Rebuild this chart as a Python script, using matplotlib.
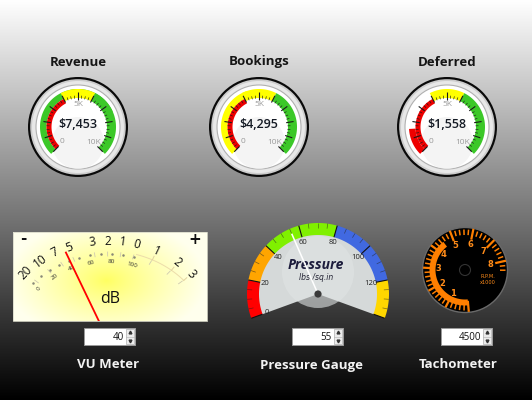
import numpy as np
import matplotlib
matplotlib.use('Agg')
import matplotlib.pyplot as plt
from matplotlib.patches import Polygon, Circle, Rectangle

# ---------------- data ----------------
gauge_titles = ['Revenue', 'Bookings', 'Deferred']
gauge_values = [7453, 4295, 1558]
gauge_max = 10000
gauge_ticks = [0, 5000, 10000]
gauge_tick_labels = ['0', '5K', '10K']
gauge_range_bounds = [0, 4000, 6000, 10000]
gauge_range_colors = ['#ee0000', '#ffff00', '#3cc828']

vu_value = 40
vu_pct_ticks = [0, 20, 40, 60, 80, 100]
vu_db_labels = ['20', '10', '7', '5', '3', '2', '1', '0', '1', '2', '3']
vu_db_pos = [2, 18, 32, 44, 64, 76, 88, 100, 117, 137, 152]

pressure_value = 55
pressure_max = 140
pressure_ticks = [0, 20, 40, 60, 80, 100, 120]
pressure_range_bounds = [0, 20, 40, 80, 120, 140]
pressure_range_colors = ['#ff0000', '#ffa500', '#80f000', '#4169e1', '#ffd700']

tach_value = 4500
tach_labels = ['1', '2', '3', '4', '5', '6', '7', '8']
tach_max = 8500

bottom_titles = ['VU Meter', 'Pressure Gauge', 'Tachometer']

# ---------------- figure ----------------
W, H = 532, 400
fig = plt.figure(figsize=(W / 100, H / 100), dpi=100)
ax = fig.add_axes([0, 0, 1, 1])
ax.set_xlim(0, W)
ax.set_ylim(H, 0)
ax.axis('off')

# background gradient
yy = np.linspace(0, 1, 400)[:, None]
g = np.clip(1.0 - yy, 0, 1) * np.ones((1, 4))
bg = np.dstack([g, g, g])
ax.imshow(bg, extent=[0, W, H, 0], aspect='auto', zorder=0, interpolation='bilinear')


def pt(cx, cy, r, a):
    a = np.radians(a)
    return cx + r * np.cos(a), cy - r * np.sin(a)


def band(cx, cy, r0, r1, a0, a1, color, z, **kw):
    n = max(int(abs(a1 - a0)) + 2, 4)
    aa = np.linspace(a0, a1, n)
    outer = [pt(cx, cy, r1, a) for a in aa]
    inner = [pt(cx, cy, r0, a) for a in aa[::-1]]
    p = Polygon(outer + inner, closed=True, facecolor=color, edgecolor='none', zorder=z, **kw)
    ax.add_patch(p)
    return p


def radial_line(cx, cy, r0, r1, a, **kw):
    x0, y0 = pt(cx, cy, r0, a)
    x1, y1 = pt(cx, cy, r1, a)
    ax.plot([x0, x1], [y0, y1], solid_capstyle='butt', **kw)


# ---------------- top radial gauges ----------------
top_cx = [78, 259, 447]
top_cy = 127


def ang_top(v):
    return 225 - 270 * v / gauge_max


for i, (title, val) in enumerate(zip(gauge_titles, gauge_values)):
    cx, cy = top_cx[i], top_cy
    ax.text(cx, 62, title, ha='center', va='center', fontsize=9.5, fontweight='bold',
            family=['Open Sans', 'DejaVu Sans'], color='#151515', zorder=5)
    ax.add_patch(Circle((cx, cy), 50, facecolor='#0a0a0a', edgecolor='none', zorder=2))
    ax.add_patch(Circle((cx, cy), 47.8, facecolor='#cdcdcd', edgecolor='none', zorder=2))
    ax.add_patch(Circle((cx, cy), 46, facecolor='#e8e8e8', edgecolor='none', zorder=2))
    ax.add_patch(Circle((cx, cy), 42, facecolor='#ffffff', edgecolor='#b0b0b0', lw=0.8, zorder=2))
    ax.add_patch(Circle((cx, cy + 16), 26, facecolor='#f0f0f0', edgecolor='none', zorder=2, alpha=0.7))
    # value bar coloured by its range
    ci = np.searchsorted(gauge_range_bounds, val, side='right') - 1
    ci = min(max(ci, 0), len(gauge_range_colors) - 1)
    band(cx, cy, 31.5, 38, ang_top(0), ang_top(val), gauge_range_colors[ci], 3)
    # ranges
    for k in range(len(gauge_range_colors)):
        a0 = ang_top(gauge_range_bounds[k])
        a1 = ang_top(gauge_range_bounds[k + 1])
        if k == 0:
            band(cx, cy, 26.5, 31.5, a0, a1, gauge_range_colors[k], 3.5)
        else:
            band(cx, cy, 29, 38, a0, a1, gauge_range_colors[k], 3.5)
    # ticks
    for v in np.arange(0, gauge_max + 1, 250):
        a = ang_top(v)
        if v % 1000 == 0:
            radial_line(cx, cy, 27.5, 35, a, color='#1a1a1a', lw=0.8, zorder=4)
        else:
            radial_line(cx, cy, 28.5, 31.5, a, color='#1a1a1a', lw=0.45, zorder=4)
    # tick labels
    lab_pos = {0: (22, 222), 5000: (22, 90), 10000: (21.5, -45)}
    for v, lab in zip(gauge_ticks, gauge_tick_labels):
        r, a = lab_pos[v]
        x, y = pt(cx, cy, r, a)
        ax.text(x, y, lab, ha='center', va='center', fontsize=6, color='#9a9a9a',
                family=['Open Sans', 'DejaVu Sans'], zorder=5)
    ax.text(cx, 124, '${:,}'.format(val), ha='center', va='center', fontsize=9, fontweight='semibold',
            color='#141a24', family=['Open Sans', 'DejaVu Sans'], zorder=5)

# ---------------- VU meter ----------------
vx0, vy0, vx1, vy1 = 13, 232, 207, 321
vcx, vcy = 108, 340
ny, nx = 90, 195
gy, gx = np.mgrid[0:ny, 0:nx]
px = vx0 + gx * (vx1 - vx0) / nx
py = vy0 + gy * (vy1 - vy0) / ny
d = np.sqrt(((px - 106) / 100) ** 2 + ((py - 280) / 60) ** 2)
t = np.clip(d, 0, 1) ** 0.85
blue = 0.38 + (0.93 - 0.38) * t
img = np.dstack([np.ones_like(t), np.ones_like(t), blue])
ax.imshow(img, extent=[vx0, vx1, vy1, vy0], aspect='auto', zorder=2, interpolation='bilinear')
panel = Rectangle((vx0, vy0), vx1 - vx0, vy1 - vy0, facecolor='none', edgecolor='#d8d8c8', lw=0.6, zorder=3)
ax.add_patch(panel)


def vu_theta(p):
    return -48.4 + 0.634 * p


def vu_pt(p, a, b):
    th = np.radians(vu_theta(p))
    return vcx + a * np.sin(th), vcy - b * np.cos(th)


for p, lab in zip(vu_db_pos, vu_db_labels):
    x, y = vu_pt(p, 112, 99)
    ax.text(x, y, lab, ha='center', va='center', rotation=-vu_theta(p), fontsize=8.5,
            family=['Open Sans', 'DejaVu Sans'], color='#111111', zorder=4)
    x0, y0 = vu_pt(p, 100, 88)
    x1, y1 = vu_pt(p, 95, 84)
    ax.plot([x0, x1], [y0, y1], color='#cfcab0', lw=0.6, zorder=3)

for p in vu_pct_ticks:
    x, y = vu_pt(p, 92, 78)
    ax.text(x, y, str(p), ha='center', va='center', rotation=-vu_theta(p), fontsize=4.5,
            family=['Open Sans', 'DejaVu Sans'], color='#333333', zorder=4)
for p in np.arange(0, 101, 10):
    x, y = vu_pt(p, 100, 86)
    ax.plot(x, y, marker='o', ms=0.8, color='#888877', zorder=3)

# overload zone outline
pp = np.linspace(102, 152, 40)
xs, ys = zip(*[vu_pt(p, 102, 89) for p in pp])
ax.plot(xs, ys, color='#ecdcaa', lw=0.7, zorder=3)
for p in [117, 137, 152]:
    x0, y0 = vu_pt(p, 102, 89)
    x1, y1 = vu_pt(p, 106, 93)
    ax.plot([x0, x1], [y0, y1], color='#e2d2a0', lw=0.7, zorder=3)

ax.text(23, 239, '-', ha='center', va='center', fontsize=11, fontweight='bold', color='#111', zorder=4)
ax.text(195, 240, '+', ha='center', va='center', fontsize=11, fontweight='bold', color='#111', zorder=4)
ax.text(110, 299, 'dB', ha='center', va='center', fontsize=11.5, color='#111',
        family=['Open Sans', 'DejaVu Sans'], zorder=4)

ex, ey = vu_pt(vu_value, 112 * 0.96, 99 * 0.96)
needle, = ax.plot([vcx, ex], [vcy, ey], color='#ff0000', lw=1.3, zorder=5)
needle.set_clip_path(Rectangle((vx0, vy0), vx1 - vx0, vy1 - vy0, transform=ax.transData))

# ---------------- Pressure gauge ----------------
pcx, pcy = 318, 294


def ang_p(v):
    return 200 - 220 * v / pressure_max


aa = np.linspace(ang_p(0), ang_p(pressure_max), 200)
face = [(pcx, pcy)] + [pt(pcx, pcy, 61, a) for a in aa]
ax.add_patch(Polygon(face, closed=True, facecolor='#d5d9d9', edgecolor='none', zorder=2))
ax.add_patch(Circle((pcx, pcy - 22), 36, facecolor='#e0e4e4', edgecolor='none', zorder=2, alpha=0.6))
for k, col in enumerate(pressure_range_colors):
    band(pcx, pcy, 59, 71, ang_p(pressure_range_bounds[k]), ang_p(pressure_range_bounds[k + 1]), col, 3)
for v in np.arange(0, pressure_max + 0.1, 5):
    a = ang_p(v)
    if v % 20 == 0:
        radial_line(pcx, pcy, 59, 71, a, color='#111111', lw=0.8, zorder=4)
    else:
        radial_line(pcx, pcy, 66, 71, a, color='#222222', lw=0.5, alpha=0.6, zorder=4)
for v in pressure_ticks:
    x, y = pt(pcx, pcy, 54, ang_p(v))
    ax.text(x, y, str(v), ha='center', va='center', fontsize=5.5, color='#222222',
            family=['Open Sans', 'DejaVu Sans'], zorder=5)
ax.text(316, 265, 'Pressure', ha='center', va='center', fontsize=10, fontweight='bold', style='italic',
        color='#1c1c3c', family=['Open Sans', 'DejaVu Sans'], zorder=5)
ax.text(316, 277, 'lbs /sq.in', ha='center', va='center', fontsize=5.5, style='italic',
        color='#222233', family=['DejaVu Sans'], zorder=5)
nx_, ny_ = pt(pcx, pcy, 65, ang_p(pressure_value))
ax.plot([pcx, nx_], [pcy, ny_], color='#ffffff', lw=1.1, zorder=6)
ax.add_patch(Circle((pcx, pcy), 3.6, facecolor='#3a3a3a', edgecolor='none', zorder=7))

# ---------------- Tachometer ----------------
tcx, tcy = 465, 270


def ang_t(v):
    return 275.2 - 32.8 * v / 1000.0


ax.add_patch(Circle((tcx, tcy), 42.5, facecolor='#000000', edgecolor='#6a6a6a', lw=1.0, zorder=2))
orange = '#ff7f00'
for v in np.arange(0, tach_max + 1, 200):
    a = ang_t(v)
    if v % 1000 == 0:
        radial_line(tcx, tcy, 31, 42, a, color=orange, lw=1.6, zorder=3)
    else:
        radial_line(tcx, tcy, 35, 40.5, a, color=orange, lw=1.1, zorder=3)
band(tcx, tcy, 29.5, 35.5, ang_t(0), ang_t(tach_value), orange, 4)
for k, lab in enumerate(tach_labels):
    x, y = pt(tcx, tcy, 26.5, ang_t((k + 1) * 1000))
    ax.text(x, y, lab, ha='center', va='center', fontsize=6, fontweight='bold', color='#ff8c1a',
            family=['DejaVu Sans'], zorder=5)
ax.text(488, 276, 'R.P.M.', ha='center', va='center', fontsize=3.6, color='#ff8c1a', zorder=5)
ax.text(488, 282, 'x1000', ha='center', va='center', fontsize=3.6, color='#ff8c1a', zorder=5)
ax.add_patch(Circle((tcx, tcy), 5.5, facecolor='none', edgecolor='#333333', lw=0.8, zorder=4))

# ---------------- spin boxes and bottom titles ----------------
spin_boxes = [(84, 135, '{}'.format(vu_value)), (292, 343, '{}'.format(pressure_value)),
              (441, 492, '{}'.format(tach_value))]
for x0, x1, txt in spin_boxes:
    y0, y1 = 328, 345
    ax.add_patch(Rectangle((x0, y0), x1 - x0, y1 - y0, facecolor='#ffffff', edgecolor='#9a9a9a', lw=0.7, zorder=3))
    ax.add_patch(Rectangle((x1 - 9.5, y0 + 1), 8.5, y1 - y0 - 2, facecolor='#ececec', edgecolor='#b0b0b0',
                           lw=0.5, zorder=4))
    ax.plot([x1 - 9.5, x1 - 1], [(y0 + y1) / 2, (y0 + y1) / 2], color='#b0b0b0', lw=0.4, zorder=5)
    ax.plot(x1 - 5.25, y0 + 4.3, marker='^', ms=2, color='#333', zorder=5)
    ax.plot(x1 - 5.25, y1 - 4.3, marker='v', ms=2, color='#333', zorder=5)
    ax.text(x1 - 11, (y0 + y1) / 2 + 0.5, txt, ha='right', va='center', fontsize=7, color='#111',
            family=['Open Sans', 'DejaVu Sans'], zorder=5)

for x, lab in zip([108, 311, 458], bottom_titles):
    ax.text(x, 365, lab, ha='center', va='center', fontsize=9.5, fontweight='bold', color='#f2f2f2',
            family=['Open Sans', 'DejaVu Sans'], zorder=5)

fig.savefig('out.png', dpi=100)
